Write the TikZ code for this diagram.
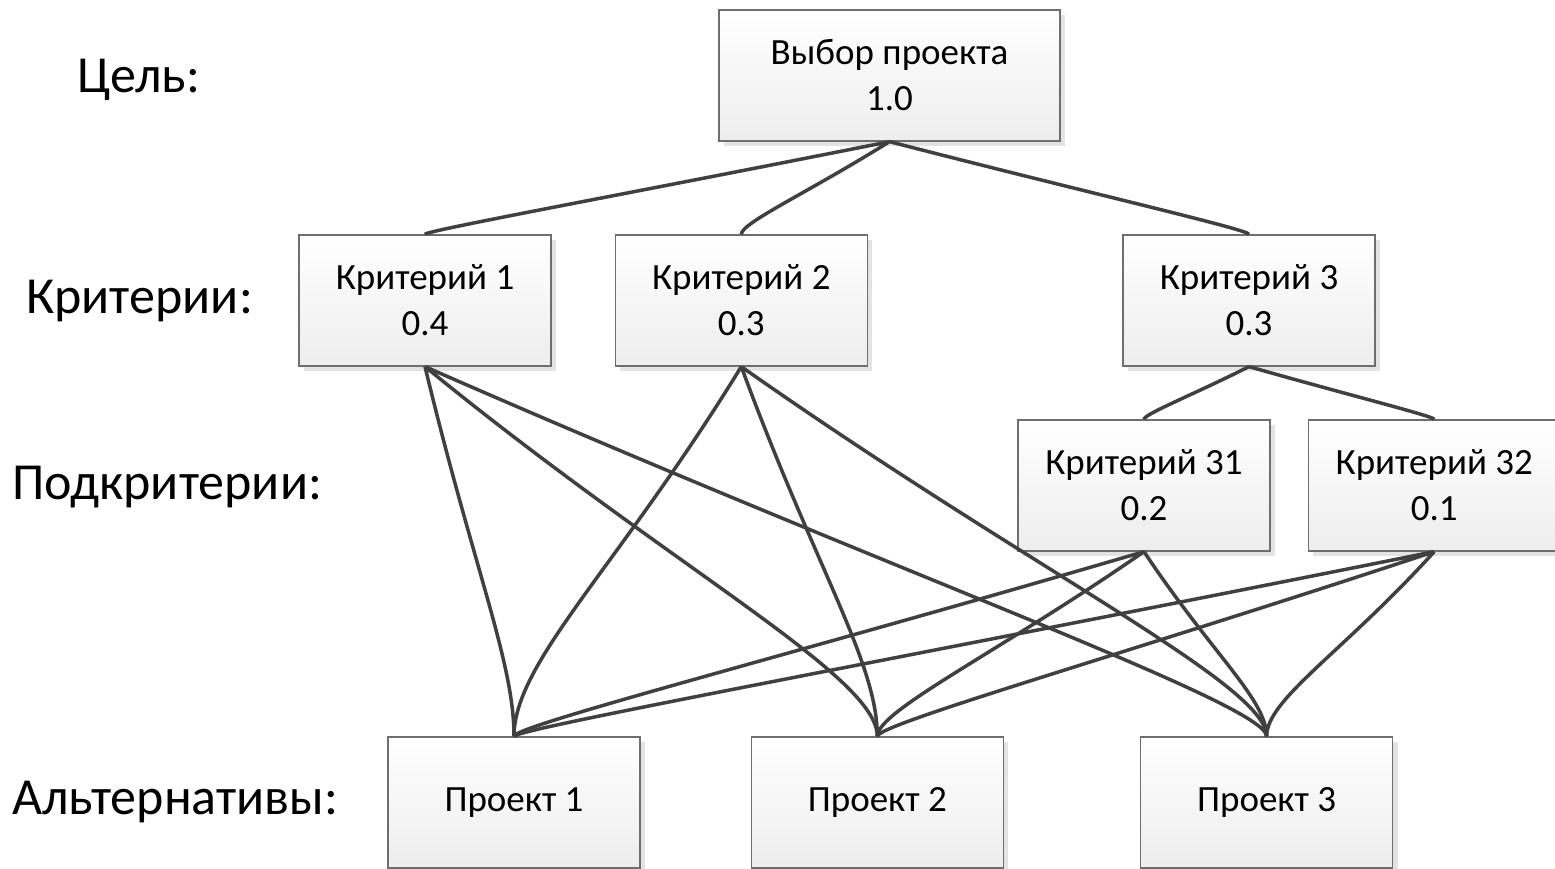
\documentclass[tikz,border=0pt]{standalone}
\usepackage{fontspec}
\setmainfont{Carlito}
\usetikzlibrary{positioning,calc,shadows}

\definecolor{boxline}{HTML}{6E6E6E}
\definecolor{linkline}{HTML}{404040}

\begin{document}
\begin{tikzpicture}[x=1pt, y=-1pt]
    \tikzstyle{block} = [rectangle, draw=boxline, line width=1.3pt, top color=white, bottom color=black!7, general shadow={fill=black!11, shadow xshift=5pt, shadow yshift=-5pt}, minimum width=252pt, minimum height=131pt, inner sep=0pt, align=center, font=\fontsize{37}{46}\selectfont]
    \tikzstyle{level} = [anchor=west, inner sep=0pt, font=\fontsize{52}{60}\selectfont]
    % curved connector: straight start, vertical entry into the lower box
    \tikzstyle{link} = [draw=linkline, line width=3.5pt, to path={let \p1=(\tikztostart), \p2=(\tikztotarget), \n1={0.2*abs(\y1-\y2)*min(1,abs(\y1-\y2)/max(abs(\x1-\x2),1))} in .. controls ($(\p1)!0.55!(\p2)$) and ($(\p2)+(0pt,\n1)$) .. (\p2)}]

    \useasboundingbox (0,0) rectangle (1555,869);

    \node [level] (lgoal) at (77,80) {Цель:};
    \node [level] (lcrit) at (26,301) {Критерии:};
    \node [level] (lsub) at (12,487) {Подкритерии:};
    \node [level] (lalt) at (12,802) {Альтернативы:};

    \node [block, minimum width=341pt] (goal) at (889.5,75.5) {Выбор проекта\\1.0};
    \node [block] (k1) at (425,300.5) {Критерий 1\\0.4};
    \node [block, right=63pt of k1] (k2) {Критерий 2\\0.3};
    \node [block] (k3) at (1249,300.5) {Критерий 3\\0.3};
    \node [block] (k31) at (1144,485.5) {Критерий 31\\0.2};
    \node [block, right=37pt of k31] (k32) {Критерий 32\\0.1};
    \node [block] (p1) at (514,802.5) {Проект 1};
    \node [block, right=110pt of p1] (p2) {Проект 2};
    \node [block, right=136pt of p2] (p3) {Проект 3};

    \draw [link] (goal.south) to (k1.north) (goal.south) to (k2.north) (goal.south) to (k3.north);
    \draw [link] (k3.south) to (k31.north) (k3.south) to (k32.north);
    \draw [link] (k1.south) to (p1.north) (k1.south) to (p2.north) (k1.south) to (p3.north);
    \draw [link] (k2.south) to (p1.north) (k2.south) to (p2.north) (k2.south) to (p3.north);
    \draw [link] (k31.south) to (p1.north) (k31.south) to (p2.north) (k31.south) to (p3.north);
    \draw [link] (k32.south) to (p1.north) (k32.south) to (p2.north) (k32.south) to (p3.north);
\end{tikzpicture}
\end{document}
